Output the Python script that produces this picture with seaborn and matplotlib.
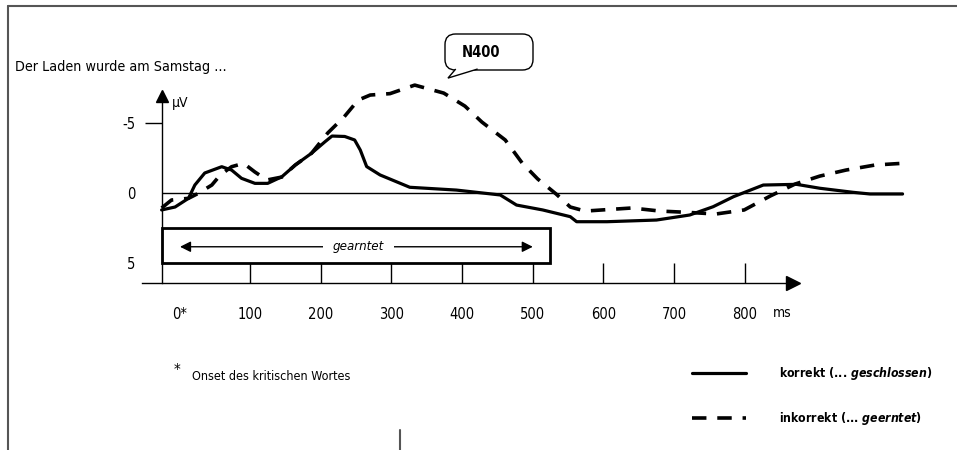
import matplotlib
matplotlib.use('Agg')
import matplotlib.pyplot as plt
import seaborn as sns
from matplotlib.lines import Line2D
from matplotlib.patches import Rectangle, FancyBboxPatch, Polygon
from matplotlib import font_manager

# ERP curves (time in ms, amplitude in microvolt, negative up)
t_korrekt = [-25, -6, 13, 22, 36, 60, 74, 88, 107, 125, 145, 164, 187, 206, 216,
             234, 248, 256, 265, 284, 326, 392, 454, 477, 514, 553, 562, 605,
             675, 722, 755, 784, 826, 873, 906, 953, 977, 1023]
uv_korrekt = [1.21, 1.0, 0.38, -0.57, -1.43, -1.88, -1.64, -1.05, -0.69, -0.69,
              -1.16, -2.0, -2.84, -3.66, -4.07, -4.04, -3.79, -3.07, -1.89,
              -1.29, -0.41, -0.21, 0.14, 0.86, 1.21, 1.69, 2.05, 2.05, 1.93,
              1.57, 0.98, 0.26, -0.57, -0.62, -0.34, -0.05, 0.07, 0.07]

t_inkorrekt = [-25, -11, 13, 27, 46, 58, 74, 91, 107, 124, 145, 164, 187, 210,
               233, 253, 270, 298, 333, 374, 404, 428, 461, 485, 507, 533, 553,
               574, 640, 680, 722, 759, 799, 836, 871, 906, 943, 984, 1019]
uv_inkorrekt = [1.07, 0.5, 0.38, 0.02, -0.57, -1.29, -1.88, -2.12, -1.5, -0.93,
                -1.14, -2.0, -2.84, -4.29, -5.43, -6.64, -7.0, -7.1, -7.71, -7.14,
                -6.21, -5.07, -3.79, -2.14, -1.0, 0.07, 1.0, 1.29, 1.07, 1.29,
                1.39, 1.5, 1.21, 0.21, -0.64, -1.21, -1.64, -2.0, -2.11]

tick_ms = [0, 100, 200, 300, 400, 500, 600, 700, 800]
tick_labels = ['0*', '100', '200', '300', '400', '500', '600', '700', '800']
uv_ticks = [-5, 0, 5]
uv_labels = ['-5', '0', '5']

legend_labels = [r'korrekt (... $\mathit{geschlossen}$)',
                 r'inkorrekt (... $\mathit{geerntet}$)']

sns.set_style('white')
names = {f.name for f in font_manager.fontManager.ttflist}
narrow = 'Liberation Sans Narrow' if 'Liberation Sans Narrow' in names else 'DejaVu Sans'
plt.rcParams['font.family'] = 'sans-serif'
plt.rcParams['font.sans-serif'] = [narrow, 'DejaVu Sans']
plt.rcParams['font.stretch'] = 'condensed'
plt.rcParams['mathtext.fontset'] = 'custom'
plt.rcParams['mathtext.it'] = 'sans:italic:bold'
plt.rcParams['text.color'] = 'black'
plt.rcParams['xtick.color'] = 'black'
plt.rcParams['ytick.color'] = 'black'

W, H = 957, 450
fig = plt.figure(figsize=(W / 100, H / 100), dpi=100)
ax = fig.add_axes([0, 0, 1, 1])

# the two ERP curves
sns.lineplot(x=t_korrekt, y=uv_korrekt, ax=ax, color='black', linewidth=2.3,
             sort=False, estimator=None)
sns.lineplot(x=t_inkorrekt, y=uv_inkorrekt, ax=ax, color='black', linewidth=2.6,
             sort=False, estimator=None, linestyle=(0, (4, 3)))
line_k, line_i = ax.lines[0], ax.lines[1]

x0, xaxis_y = -24.5, 6.43
ax.hlines(0, x0, 1023, color='black', lw=1)

# axes drawn as arrows
ax.set_xlim(-253.6, 1100)
ax.set_ylim(18.36, -13.79)
for s in ['top', 'right']:
    ax.spines[s].set_visible(False)
ax.spines['left'].set_position(('data', x0))
ax.spines['left'].set_bounds(xaxis_y, -6.6)
ax.spines['bottom'].set_position(('data', xaxis_y))
ax.spines['bottom'].set_bounds(-52.6, 862)
for s in ['left', 'bottom']:
    ax.spines[s].set_color('black')
    ax.spines[s].set_linewidth(1)
ax.plot([x0], [-6.9], marker='^', color='black', markersize=9, clip_on=False)
ax.plot([868], [xaxis_y], marker='>', color='black', markersize=10, clip_on=False)

ax.set_xticks(tick_ms, tick_labels)
ax.tick_params(axis='x', direction='in', length=14.4, width=1, pad=17,
               labelsize=10.5, bottom=True)
ax.xaxis.get_major_ticks()[0].tick1line.set_visible(False)
ax.set_yticks(uv_ticks, uv_labels)
ax.tick_params(axis='y', direction='out', length=12, width=1, pad=7,
               labelsize=10.5, left=True)
for tk in ax.yaxis.get_major_ticks()[1:]:
    tk.tick1line.set_visible(False)

ax.text(-10.5, -6.4, 'µV', fontsize=10, va='center')
ax.text(840, 8.57, 'ms', fontsize=10, va='center')
ax.text(-232, -9.0, 'Der Laden wurde am Samstag ...', fontsize=10.3, va='center')

# "gearntet" box with double arrow
ax.add_patch(Rectangle((x0, 2.5), 548.5, 2.5, fill=False, lw=2, ec='black',
                       zorder=4))
ax.annotate('', xy=(500, 3.84), xytext=(1, 3.84),
            arrowprops=dict(arrowstyle='<|-|>', color='black', lw=1,
                            mutation_scale=16, shrinkA=0, shrinkB=0))
ax.text(253, 3.84, 'gearntet', style='italic', fontsize=9.5, ha='center',
        va='center', zorder=3, bbox=dict(fc='white', ec='none', pad=7))

# N400 speech bubble
bubble = FancyBboxPatch((445 / W, 1 - 70 / H), 88 / W, 36 / H,
                        boxstyle='round,pad=0,rounding_size=0.011',
                        mutation_aspect=W / H, transform=ax.transAxes,
                        fc='white', ec='black', lw=1, clip_on=False, zorder=5)
ax.add_patch(bubble)
ax.add_patch(Polygon([(391, -8.86), (380, -8.21), (422, -8.86)], closed=False,
                     fc='white', ec='black', lw=1, zorder=6))
ax.text(427, -10.07, 'N400', fontsize=10.5, fontweight='bold', ha='center',
        va='center', zorder=7)

# footnote
ax.text(-3, 12.7, '*', fontsize=11, ha='center', va='center')
ax.text(18, 13.1, 'Onset des kritischen Wortes', fontsize=9, va='center')

ax.legend(handles=[line_k, line_i], labels=legend_labels, loc='upper left',
          bbox_to_anchor=(692 / W, 1 - 365 / H), bbox_transform=fig.transFigure,
          frameon=False, borderpad=0, borderaxespad=0, handlelength=4.4,
          handletextpad=2.7, labelspacing=2.3,
          prop={'weight': 'bold', 'size': 8.8})

# page frame
frame = dict(color='#555555', lw=1.5)
fig.add_artist(Line2D([8 / W, 1], [1 - 6 / H, 1 - 6 / H], **frame))
fig.add_artist(Line2D([8 / W, 8 / W], [0, 1 - 6 / H], **frame))
fig.add_artist(Line2D([400 / W, 400 / W], [0, 20 / H], **frame))

fig.savefig('out.png', dpi=100)
